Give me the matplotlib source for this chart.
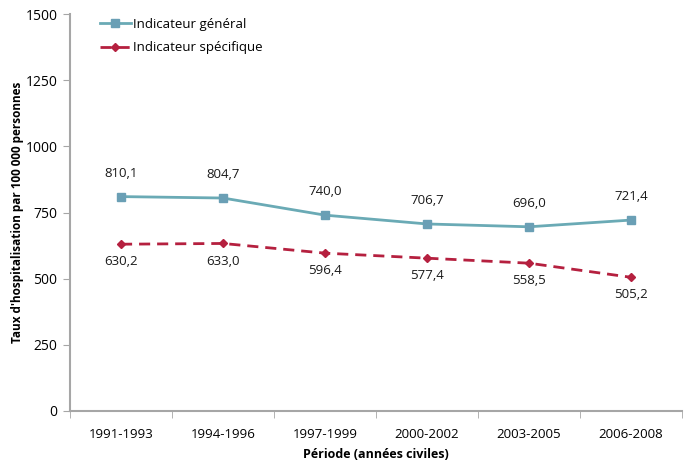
import matplotlib
matplotlib.use("Agg")
import matplotlib.pyplot as plt

periods = ["1991-1993", "1994-1996", "1997-1999", "2000-2002", "2003-2005", "2006-2008"]
general = [810.1, 804.7, 740.0, 706.7, 696.0, 721.4]
specifique = [630.2, 633.0, 596.4, 577.4, 558.5, 505.2]
yticks = [0, 250, 500, 750, 1000, 1250, 1500]

TEAL = "#6aaab5"
TEAL_MK = "#6a9fb5"
RED = "#b5203f"
AXIS = "#a6a6a6"

plt.rcParams["font.family"] = ["Open Sans", "DejaVu Sans"]

fig = plt.figure(figsize=(6.86, 4.62), dpi=100)
ax = fig.add_axes([70 / 686, (462 - 411) / 462, 612 / 686, 397 / 462])

x = list(range(len(periods)))
ax.plot(x, general, color=TEAL, lw=2, marker="s", ms=5.5, mfc=TEAL_MK, mec=TEAL_MK,
        label="Indicateur général")
ax.plot(x, specifique, color=RED, lw=2, ls=(0, (4, 2.5)), marker="D", ms=4.5,
        mfc=RED, mec=RED, label="Indicateur spécifique")

def fmt(v):
    return f"{v:.1f}".replace(".", ",")

for xi, v in zip(x, general):
    ax.annotate(fmt(v), (xi, v), xytext=(0, 12), textcoords="offset points",
                ha="center", va="bottom", fontsize=9.5, color="#1a1a1a")
for xi, v in zip(x, specifique):
    ax.annotate(fmt(v), (xi, v), xytext=(0, -8), textcoords="offset points",
                ha="center", va="top", fontsize=9.5, color="#1a1a1a")

ax.set_xlim(-0.5, len(periods) - 0.5)
ax.set_ylim(0, 1500)
ax.set_yticks(yticks)
ax.set_yticklabels([str(t) for t in yticks], fontsize=10)
ax.set_xticks(x)
ax.set_xticklabels(periods, fontsize=9.5)
ax.set_xticks([i + 0.5 for i in range(-1, len(periods))], minor=True)
ax.tick_params(axis="x", which="major", length=0, pad=12)
ax.tick_params(axis="x", which="minor", length=5, color=AXIS, direction="out")
ax.tick_params(axis="y", length=5, color=AXIS, direction="out", pad=4)

for s in ["top", "right"]:
    ax.spines[s].set_visible(False)
for s in ["left", "bottom"]:
    ax.spines[s].set_color(AXIS)
    ax.spines[s].set_linewidth(1.5)

ax.set_xlabel("Période (années civiles)", fontsize=9, fontweight="bold", labelpad=5)
ax.set_ylabel("Taux d'hospitalisation par 100 000 personnes", fontsize=8.5,
              fontweight="bold", labelpad=1)

ax.legend(loc="upper left", bbox_to_anchor=(0.03, 1.02), frameon=False, fontsize=9.5,
          handlelength=2.3, labelspacing=0.8, handletextpad=0.2)

fig.savefig("out.png", dpi=100)
